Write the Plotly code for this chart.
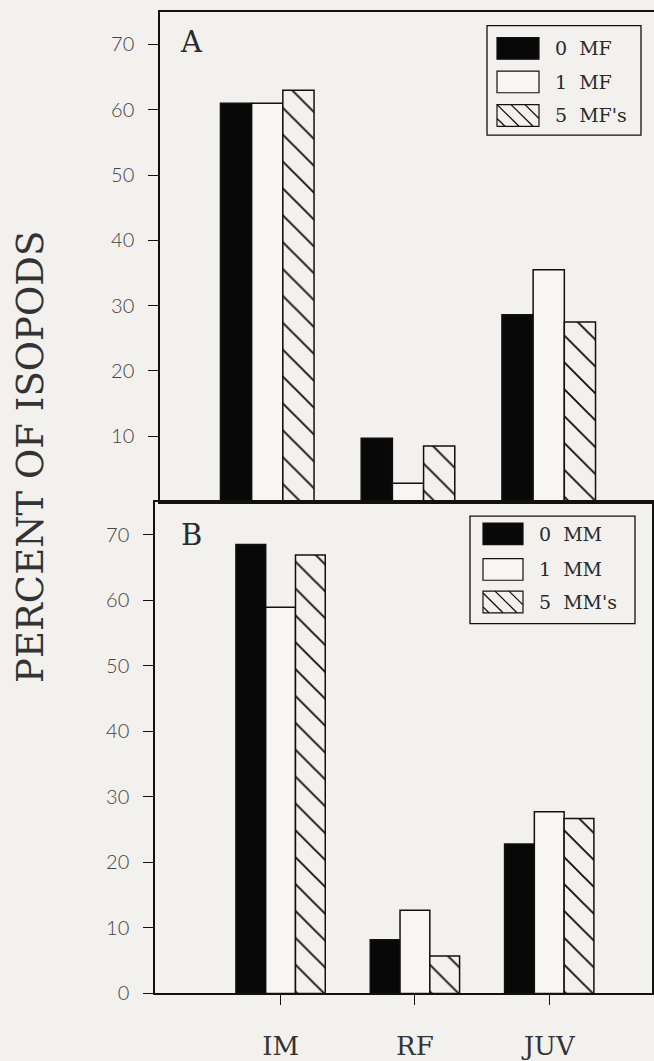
import plotly.graph_objects as go

# Page size in pixels
W, H = 654, 1061

# ---- data -------------------------------------------------------------
categories = ["IM", "RF", "JUV"]

series_a = ["0 MF", "1 MF", "5 MF's"]
a_0_mf = [61.0, 9.7, 28.6]
a_1_mf = [61.0, 2.8, 35.5]
a_5_mf = [63.0, 8.5, 27.5]

series_b = ["0 MM", "1 MM", "5 MM's"]
b_0_mm = [68.5, 8.2, 22.8]
b_1_mm = [58.9, 12.7, 27.7]
b_5_mm = [66.9, 5.7, 26.7]

y_ticks_a = [10, 20, 30, 40, 50, 60, 70]
y_ticks_b = [0, 10, 20, 30, 40, 50, 60, 70]

y_title = "PERCENT OF ISOPODS"
panel_labels = ["A", "B"]

# ---- styling ----------------------------------------------------------
BG = "#f3f1ee"
INK = "#111111"
SERIF = "DejaVu Serif, Liberation Serif, serif"
SANS = "Lato, Open Sans, DejaVu Sans, sans-serif"
HATCH_STEP = 19


def px_x(x):
    return x / W


def px_y(y):
    return 1 - y / H


def bar_marker(kind):
    if kind == 0:
        return dict(color="#080808", line=dict(color=INK, width=1.5))
    if kind == 1:
        return dict(color="#f7f6f3", line=dict(color=INK, width=1.5))
    return dict(color=BG, line=dict(color=INK, width=1.5),
                pattern=dict(shape="\\", size=HATCH_STEP, solidity=0.1,
                             fgcolor=INK, bgcolor=BG, fillmode="replace"))


fig = go.Figure()

for i, (name, vals) in enumerate(zip(series_a, [a_0_mf, a_1_mf, a_5_mf])):
    fig.add_trace(go.Bar(x=categories, y=vals, name=name, marker=bar_marker(i),
                         xaxis="x", yaxis="y", offsetgroup=str(i),
                         showlegend=False))

for i, (name, vals) in enumerate(zip(series_b, [b_0_mm, b_1_mm, b_5_mm])):
    fig.add_trace(go.Bar(x=categories, y=vals, name=name, marker=bar_marker(i),
                         xaxis="x2", yaxis="y2", offsetgroup=str(i),
                         showlegend=False))

tick_font = dict(family=SANS, size=20, color="#444444", weight=300)

common_y = dict(range=[0, 75], showgrid=False, zeroline=False, showline=True,
                linecolor=INK, linewidth=1.5, ticks="outside", ticklen=10,
                tickwidth=1.2, tickcolor=INK, tickfont=tick_font,
                ticklabelstandoff=10)

fig.update_layout(
    width=W, height=H,
    margin=dict(l=0, r=0, t=0, b=0),
    paper_bgcolor=BG, plot_bgcolor=BG,
    barmode="group", bargap=0.335, bargroupgap=0,
    showlegend=False,
    xaxis=dict(domain=[px_x(160), 1.0], range=[-0.762, 2.748],
               showgrid=False, zeroline=False, showline=True, mirror=True,
               linecolor=INK, linewidth=1.5, showticklabels=False, ticks="",
               anchor="y"),
    yaxis=dict(domain=[px_y(508.3), px_y(12)], tickvals=y_ticks_a,
               anchor="x", **common_y),
    xaxis2=dict(domain=[px_x(155), px_x(652)], range=[-0.935, 2.765],
                showgrid=False, zeroline=False, showline=True, mirror=True,
                linecolor=INK, linewidth=2, ticks="outside", ticklen=10,
                tickwidth=1.2, tickcolor=INK,
                tickfont=dict(family=SERIF, size=26, color="#333333"),
                ticklabelstandoff=18, anchor="y2"),
    yaxis2=dict(domain=[px_y(1006.7), px_y(508.5)], tickvals=y_ticks_b,
                anchor="x2", mirror=True, **common_y),
)

shapes = []
annotations = []

# y-axis title
annotations.append(dict(x=px_x(31), y=px_y(463), xref="paper", yref="paper",
                        text=y_title, textangle=-90, showarrow=False,
                        font=dict(family=SERIF, size=37, color="#333333"),
                        xanchor="center", yanchor="middle"))

# panel letters
for label, (lx, ly) in zip(panel_labels, [(191, 43), (191, 542)]):
    annotations.append(dict(x=px_x(lx), y=px_y(ly), xref="paper", yref="paper",
                            text=label, showarrow=False,
                            font=dict(family=SERIF, size=29, color="#2a2a2a"),
                            xanchor="center", yanchor="middle"))


def hatch_lines(x0, y0, x1, y1, step):
    """Diagonal '\\' lines clipped to a pixel box."""
    out = []
    k = y0 - x1
    while k < y1 - x0:
        xa = max(x0, y0 - k)
        xb = min(x1, y1 - k)
        if xb - xa > 0.5:
            out.append(dict(type="line", xref="paper", yref="paper",
                            x0=px_x(xa), y0=px_y(xa + k),
                            x1=px_x(xb), y1=px_y(xb + k),
                            line=dict(color=INK, width=1.3)))
        k += step
    return out


def legend_block(names, box, sw_x, text_x, rows):
    bx0, by0, bx1, by1 = box
    shapes.append(dict(type="rect", xref="paper", yref="paper",
                       x0=px_x(bx0), y0=px_y(by1), x1=px_x(bx1), y1=px_y(by0),
                       line=dict(color=INK, width=1.3), fillcolor=BG))
    for i, (name, cy) in enumerate(zip(names, rows)):
        sx0, sx1 = sw_x
        sy0, sy1 = cy - 11, cy + 11
        fill = "#080808" if i == 0 else ("#f7f6f3" if i == 1 else BG)
        shapes.append(dict(type="rect", xref="paper", yref="paper",
                           x0=px_x(sx0), y0=px_y(sy1), x1=px_x(sx1), y1=px_y(sy0),
                           line=dict(color=INK, width=1.2), fillcolor=fill))
        if i == 2:
            shapes.extend(hatch_lines(sx0, sy0, sx1, sy1, 14))
        annotations.append(dict(x=px_x(text_x), y=px_y(cy), xref="paper",
                                yref="paper", text=name.replace(" ", "\u00a0\u00a0"),
                                showarrow=False, xanchor="left", yanchor="middle",
                                font=dict(family=SERIF, size=19, color="#2a2a2a")))


legend_block(series_a, (487, 26, 641, 137), (497, 539), 553, [49, 83, 117])
legend_block(series_b, (470, 523, 635, 632), (483, 523), 537, [541, 577, 610])

fig.update_layout(shapes=shapes, annotations=annotations)

fig.write_html("out.html")
